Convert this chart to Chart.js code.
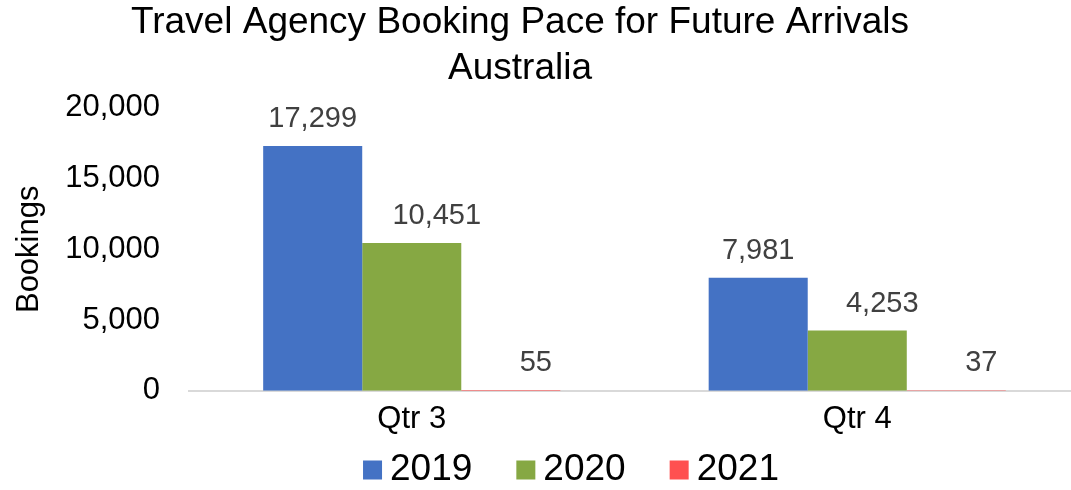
<!DOCTYPE html>
<html>
<head>
<meta charset="utf-8">
<script src="https://cdn.jsdelivr.net/npm/chart.js@4"></script>
<style>
  html, body { margin: 0; padding: 0; background: #fff; }
  #wrap { width: 1071px; height: 490px; }
</style>
</head>
<body>
<div id="wrap"><canvas id="bookingChart" width="1071" height="490"></canvas></div>
<script>
// data
const quarters = ["Qtr 3", "Qtr 4"];
const years = ["2019", "2020", "2021"];
const bookings2019 = [17299, 7981];
const bookings2020 = [10451, 4253];
const bookings2021 = [55, 37];
const yTicks = [0, 5000, 10000, 15000, 20000];

const colors = ["#4472C4", "#86A843", "#FF5050"];
const labelShift = [0, 25, 25]; // excel had the green/red labels nudged right
const fontFamily = "'Liberation Sans', Arial, sans-serif";

// value labels above each bar
const barLabels = {
    id: "barLabels",
    afterDatasetsDraw(chart) {
        const ctx = chart.ctx;
        ctx.save();
        ctx.font = "29px " + fontFamily;
        ctx.fillStyle = "#404040";
        ctx.textAlign = "center";
        ctx.textBaseline = "middle";
        chart.data.datasets.forEach((ds, i) => {
            chart.getDatasetMeta(i).data.forEach((bar, j) => {
                ctx.fillText(ds.data[j].toLocaleString("en-US"), bar.x + labelShift[i], bar.y - 27);
            });
        });
        ctx.restore();
    }
};

// legend drawn by hand so the box/text spacing matches excel
const bottomLegend = {
    id: "bottomLegend",
    afterDraw(chart) {
        const ctx = chart.ctx;
        const box = 19, gap = 8, between = 44, cy = 470, centerX = 571;
        ctx.save();
        ctx.font = "37px " + fontFamily;
        ctx.textBaseline = "middle";
        const items = chart.data.datasets.map(ds => ({
            text: ds.label, color: ds.backgroundColor, w: ctx.measureText(ds.label).width
        }));
        let total = 0;
        items.forEach((it, i) => { total += box + gap + it.w + (i ? between : 0); });
        let x = centerX - total / 2;
        items.forEach(it => {
            ctx.fillStyle = it.color;
            ctx.fillRect(x, cy - box / 2, box, box);
            ctx.fillStyle = "#000";
            ctx.fillText(it.text, x + box + gap, cy);
            x += box + gap + it.w + between;
        });
        ctx.restore();
    }
};

// the excel plot area runs a little past the right edge of the picture
const spillRight = {
    id: "spillRight",
    afterLayout(chart) {
        const extra = 9;
        const x = chart.scales.x;
        x.right += extra;
        x.width += extra;
        chart.chartArea.right += extra;
        chart.chartArea.width += extra;
        x.configure();
    }
};

new Chart(document.getElementById("bookingChart"), {
    type: "bar",
    data: {
        labels: quarters,
        datasets: [
            { label: years[0], data: bookings2019, backgroundColor: colors[0] },
            { label: years[1], data: bookings2020, backgroundColor: colors[1] },
            { label: years[2], data: bookings2021, backgroundColor: colors[2] }
        ]
    },
    options: {
        responsive: false,
        animation: false,
        layout: { padding: { left: -31, right: 0, top: 0, bottom: 42 } },
        datasets: { bar: { barPercentage: 1, categoryPercentage: 0.667, borderWidth: 0 } },
        plugins: {
            legend: { display: false },
            tooltip: { enabled: false },
            title: {
                display: true,
                text: ["Travel Agency Booking Pace for Future Arrivals", "Australia"],
                color: "#000",
                font: { family: fontFamily, size: 37, weight: "normal", lineHeight: 1.24 },
                padding: { top: 0, bottom: 16 }
            }
        },
        scales: {
            x: {
                grid: { display: false, drawTicks: false },
                border: { display: true, color: "#D9D9D9", width: 2 },
                ticks: { color: "#000", padding: 10, font: { family: fontFamily, size: 31 } }
            },
            y: {
                min: 0,
                max: 20000,
                afterBuildTicks: scale => { scale.ticks = yTicks.map(v => ({ value: v })); },
                afterFit: scale => { scale.width = 220; },
                grid: { display: false, drawTicks: false },
                border: { display: false },
                ticks: {
                    color: "#000",
                    padding: 29,
                    font: { family: fontFamily, size: 31 },
                    callback: v => v.toLocaleString("en-US")
                },
                title: {
                    display: true,
                    text: "Bookings",
                    color: "#000",
                    font: { family: fontFamily, size: 31 },
                    padding: { top: 42, bottom: 0 }
                }
            }
        }
    },
    plugins: [spillRight, barLabels, bottomLegend]
});
</script>
</body>
</html>
